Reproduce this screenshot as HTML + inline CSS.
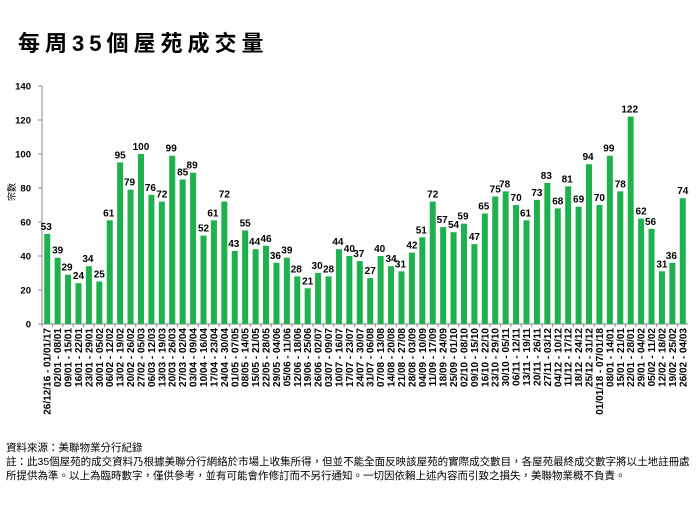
<!DOCTYPE html>
<html><head><meta charset="utf-8"><style>
body{margin:0;background:#fff;width:700px;height:525px;overflow:hidden;font-family:"Liberation Sans","Noto Sans CJK TC",sans-serif}
.t{position:absolute;left:18px;top:26px;font-size:22px;font-weight:bold;letter-spacing:5px}
.n{position:absolute;left:6px;top:441px;font-size:10.5px;line-height:14px;color:#000;white-space:nowrap}
</style></head><body>
<div class="t">每周35個屋苑成交量</div>
<svg id="s" width="700" height="525" style="position:absolute;left:0;top:0" font-family="Liberation Sans, Noto Sans CJK TC, sans-serif"></svg>
<div class="n">資料來源：美聯物業分行紀錄<br>註：此35個屋苑的成交資料乃根據美聯分行網絡於市場上收集所得，但並不能全面反映該屋苑的實際成交數目，各屋苑最終成交數字將以土地註冊處<br>所提供為準。以上為臨時數字，僅供參考，並有可能會作修訂而不另行通知。一切因依賴上述內容而引致之損失，美聯物業概不負責。</div>
<script>
var v=[53,39,29,24,34,25,61,95,79,100,76,72,99,85,89,52,61,72,43,55,44,46,36,39,28,21,30,28,44,40,37,27,40,34,31,42,51,72,57,54,59,47,65,75,78,70,61,73,83,68,81,69,94,70,99,78,122,62,56,31,36,74];
var s='',x0=42,x1=688,y0=324,k=238/140,w=(x1-x0)/62;
s+='<line x1="'+x0+'" y1="86" x2="'+x0+'" y2="'+y0+'" stroke="#888"/>';
s+='<line x1="'+x0+'" y1="'+y0+'" x2="'+x1+'" y2="'+y0+'" stroke="#888"/>';
for(var i=0;i<=7;i++){var y=y0-i*20*k;s+='<line x1="38" y1="'+y+'" x2="'+x0+'" y2="'+y+'" stroke="#888"/><text x="31" y="'+(y+3.5)+'" font-size="9.5" font-weight="bold" text-anchor="end">'+(i*20)+'</text>';}
s+='<text transform="translate(15,192) rotate(-90)" font-size="9" text-anchor="middle">宗數</text>';
function p(n){return (n<10?'0':'')+n}
var d=new Date(Date.UTC(2016,11,26));
for(var i=0;i<62;i++){
 var cx=x0+w*(i+0.5),h=v[i]*k;
 s+='<rect x="'+(cx-3)+'" y="'+(y0-h)+'" width="6" height="'+h+'" fill="#1fb14e"/>';
 s+='<text x="'+(cx+(i%2?0:-1))+'" y="'+(y0-h-4)+'" font-size="10" font-weight="bold" text-anchor="middle">'+v[i]+'</text>';
 s+='<line x1="'+(x0+w*i)+'" y1="'+y0+'" x2="'+(x0+w*i)+'" y2="'+(y0+3)+'" stroke="#888"/>';
 var e=new Date(d.getTime()+6*864e5);
 var a=p(d.getUTCDate())+'/'+p(d.getUTCMonth()+1),b=p(e.getUTCDate())+'/'+p(e.getUTCMonth()+1);
 if(i==0){a+='/16';b+='/17';}
 if(i==53){a+='/18';b+='/18';}
 s+='<text transform="translate('+(cx+3.5)+','+(y0+4)+') rotate(-90)" font-size="10" font-weight="bold" text-anchor="end">'+a+' - '+b+'</text>';
 d=new Date(d.getTime()+7*864e5);
}
document.getElementById('s').innerHTML=s;
</script>
</body></html>
